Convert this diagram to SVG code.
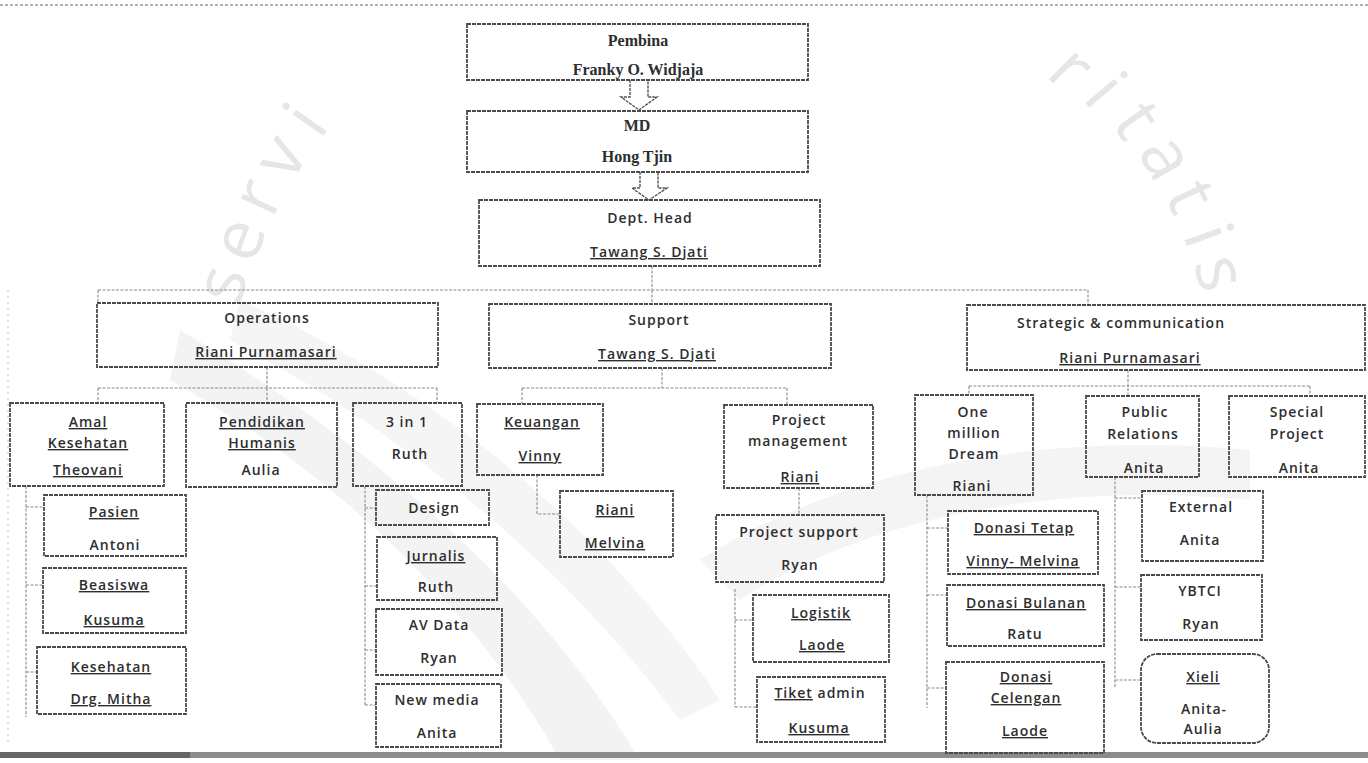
<svg xmlns="http://www.w3.org/2000/svg" width="1368" height="763" viewBox="0 0 1368 763">
<defs>
<style>
.bx{fill:none;stroke:#4a4a4a;stroke-width:1.8;stroke-dasharray:4 1}
.cn{fill:none;stroke:#8a8a8a;stroke-width:1.1;stroke-dasharray:3 1.5}
.s{font-family:"Open Sans","DejaVu Sans",sans-serif;font-size:14px;font-weight:600;fill:#2e2e2e;text-anchor:middle;letter-spacing:1px}
.t{font-family:"Liberation Serif","Times New Roman",serif;font-size:16px;font-weight:bold;fill:#2e2e2e;text-anchor:middle}
.u{text-decoration:underline;text-decoration-style:wavy;text-decoration-color:#8a8a8a}
.wm{font-family:"Open Sans","DejaVu Sans",sans-serif;font-size:70px;fill:#e6e6e6;text-anchor:middle;dominant-baseline:central}
.ar{fill:#fff;stroke:#555;stroke-width:1.4;stroke-dasharray:3 1}
</style>
</defs>
<rect width="1368" height="763" fill="#fff"/>
<g id="watermark">
<path d="M180,330 C330,420 520,560 640,760 L560,760 C470,600 330,470 170,380 Z" fill="#f3f3f3"/>
<path d="M240,300 C420,380 600,520 720,700 L680,720 C560,560 400,430 230,340 Z" fill="#f5f5f5"/>
<path d="M700,560 C840,470 1040,430 1250,450 L1250,500 C1050,480 860,520 740,600 Z" fill="#f4f4f4"/>
<text class="wm" x="218" y="283" transform="rotate(-75 218 283)">s</text>
<text class="wm" x="235" y="238" transform="rotate(-70 235 238)">e</text>
<text class="wm" x="254" y="195" transform="rotate(-65 254 195)">r</text>
<text class="wm" x="277" y="155" transform="rotate(-60 277 155)">v</text>
<text class="wm" x="303" y="118" transform="rotate(-55 303 118)">i</text>
<text class="wm" x="1074" y="66" transform="rotate(45 1074 66)">r</text>
<text class="wm" x="1108" y="88" transform="rotate(50 1108 88)">i</text>
<text class="wm" x="1140" y="118" transform="rotate(55 1140 118)">t</text>
<text class="wm" x="1170" y="155" transform="rotate(60 1170 155)">a</text>
<text class="wm" x="1194" y="195" transform="rotate(65 1194 195)">t</text>
<text class="wm" x="1211" y="234" transform="rotate(70 1211 234)">i</text>
<text class="wm" x="1224" y="272" transform="rotate(75 1224 272)">s</text>
</g>
<g id="scan-edges">
<line x1="0" y1="5" x2="1368" y2="5" stroke="#9a9a9a" stroke-width="1.5" stroke-dasharray="3 2"/>
<line x1="8" y1="290" x2="8" y2="745" stroke="#c4c4c4" stroke-width="1" stroke-dasharray="2 4"/>
<rect x="0" y="752" width="1368" height="6" fill="#8c8c8c"/>
<rect x="0" y="752" width="190" height="6" fill="#666"/>
</g>
<g id="connectors">
<path class="ar" d="M630,80 V97 H621 L639,110 L657,97 H648 V80"/>
<path class="ar" d="M640,172 V188 H632 L649,200 L667,188 H658 V172"/>
<path class="cn" d="M652,266 V290 M98,290 H1088 M98,290 V303 M652,290 V304 M1088,290 V305"/>
<path class="cn" d="M267,367 V388 M98,388 H437 M98,388 V403 M267,388 V403 M437,388 V403"/>
<path class="cn" d="M662,368 V388 M522,388 H787 M522,388 V404 M787,388 V405"/>
<path class="cn" d="M1128,370 V396 M969,386 H1310 M969,386 V395 M1310,386 V396"/>
<path class="cn" d="M26,486 V717 M26,507 H44 M26,585 H43 M26,672 H37"/>
<path class="cn" d="M365,486 V705 M365,508 H376 M365,586 H377 M365,650 H376 M365,705 H376"/>
<path class="cn" d="M537,475 V514 H560"/>
<path class="cn" d="M799,488 V515"/>
<path class="cn" d="M735,589 V707 M735,620 H753 M735,707 H757"/>
<path class="cn" d="M927,495 V708 M927,528 H948 M927,595 H947 M927,688 H946"/>
<path class="cn" d="M1115,477 V688 M1115,498 H1142 M1115,587 H1141 M1115,680 H1141"/>
</g>
<g id="pembina"><rect class="bx" x="467" y="24" width="341" height="56"/><text class="t" x="638" y="46">Pembina</text><text class="t" x="638" y="75">Franky O. Widjaja</text></g>
<g id="md"><rect class="bx" x="467" y="111" width="341" height="61"/><text class="t" x="637" y="131">MD</text><text class="t" x="637" y="162">Hong Tjin</text></g>
<g id="depthead"><rect class="bx" x="479" y="200" width="341" height="66"/><text class="s" x="650" y="223">Dept. Head</text><text class="s u" x="649" y="257">Tawang S. Djati</text></g>
<g id="operations"><rect class="bx" x="97" y="303" width="341" height="64"/><text class="s" x="267" y="323">Operations</text><text class="s u" x="266" y="357">Riani Purnamasari</text></g>
<g id="support"><rect class="bx" x="489" y="304" width="342" height="64"/><text class="s" x="659" y="325">Support</text><text class="s u" x="657" y="359">Tawang S. Djati</text></g>
<g id="strategic"><rect class="bx" x="967" y="305" width="398" height="65"/><text class="s" x="1121" y="328">Strategic &amp; communication</text><text class="s u" x="1130" y="363">Riani Purnamasari</text></g>
<g id="amal"><rect class="bx" x="10" y="403" width="154" height="83"/><text class="s u" x="88" y="427">Amal</text><text class="s u" x="88" y="448">Kesehatan</text><text class="s u" x="88" y="475">Theovani</text></g>
<g id="pendidikan"><rect class="bx" x="186" y="403" width="151" height="84"/><text class="s u" x="262" y="427">Pendidikan</text><text class="s u" x="262" y="448">Humanis</text><text class="s" x="261" y="475">Aulia</text></g>
<g id="threeinone"><rect class="bx" x="353" y="403" width="109" height="83"/><text class="s" x="407" y="427">3 in 1</text><text class="s" x="410" y="459">Ruth</text></g>
<g id="keuangan"><rect class="bx" x="477" y="404" width="126" height="71"/><text class="s u" x="542" y="427">Keuangan</text><text class="s u" x="540" y="461">Vinny</text></g>
<g id="projectmgmt"><rect class="bx" x="724" y="405" width="149" height="83"/><text class="s" x="799" y="425">Project</text><text class="s" x="798" y="446">management</text><text class="s u" x="800" y="482">Riani</text></g>
<g id="rianimelvina"><rect class="bx" x="560" y="491" width="113" height="66"/><text class="s u" x="615" y="515">Riani</text><text class="s u" x="615" y="548">Melvina</text></g>
<g id="projectsupport"><rect class="bx" x="716" y="515" width="168" height="67"/><text class="s" x="799" y="537">Project support</text><text class="s" x="800" y="570">Ryan</text></g>
<g id="logistik"><rect class="bx" x="753" y="595" width="136" height="67"/><text class="s u" x="821" y="618">Logistik</text><text class="s u" x="822" y="650">Laode</text></g>
<g id="tiketadmin"><rect class="bx" x="757" y="677" width="128" height="65"/><text class="s" x="820" y="698"><tspan class="u">Tiket</tspan> admin</text><text class="s u" x="819" y="733">Kusuma</text></g>
<g id="pasien"><rect class="bx" x="44" y="495" width="142" height="61"/><text class="s u" x="114" y="517">Pasien</text><text class="s" x="115" y="550">Antoni</text></g>
<g id="beasiswa"><rect class="bx" x="43" y="568" width="143" height="65"/><text class="s u" x="114" y="590">Beasiswa</text><text class="s u" x="114" y="625">Kusuma</text></g>
<g id="kesehatan"><rect class="bx" x="37" y="647" width="149" height="67"/><text class="s u" x="111" y="672">Kesehatan</text><text class="s u" x="111" y="704">Drg. Mitha</text></g>
<g id="design"><rect class="bx" x="376" y="490" width="113" height="35"/><text class="s" x="434" y="513">Design</text></g>
<g id="jurnalis"><rect class="bx" x="377" y="537" width="120" height="63"/><text class="s u" x="436" y="561">Jurnalis</text><text class="s" x="436" y="592">Ruth</text></g>
<g id="avdata"><rect class="bx" x="376" y="609" width="126" height="66"/><text class="s" x="439" y="630">AV Data</text><text class="s" x="439" y="663">Ryan</text></g>
<g id="newmedia"><rect class="bx" x="376" y="684" width="125" height="63"/><text class="s" x="437" y="705">New media</text><text class="s" x="437" y="738">Anita</text></g>
<g id="onemillion"><rect class="bx" x="915" y="395" width="118" height="100"/><text class="s" x="973" y="417">One</text><text class="s" x="974" y="438">million</text><text class="s" x="974" y="459">Dream</text><text class="s" x="972" y="491">Riani</text></g>
<g id="publicrelations"><rect class="bx" x="1086" y="396" width="113" height="81"/><text class="s" x="1145" y="417">Public</text><text class="s" x="1143" y="439">Relations</text><text class="s" x="1144" y="473">Anita</text></g>
<g id="specialproject"><rect class="bx" x="1229" y="396" width="136" height="81"/><text class="s" x="1297" y="417">Special</text><text class="s" x="1297" y="439">Project</text><text class="s" x="1299" y="473">Anita</text></g>
<g id="donasitetap"><rect class="bx" x="948" y="511" width="150" height="63"/><text class="s u" x="1024" y="533">Donasi Tetap</text><text class="s u" x="1023" y="566">Vinny- Melvina</text></g>
<g id="donasibulanan"><rect class="bx" x="947" y="585" width="157" height="61"/><text class="s u" x="1026" y="608">Donasi Bulanan</text><text class="s" x="1025" y="639">Ratu</text></g>
<g id="donasicelengan"><rect class="bx" x="946" y="662" width="158" height="91"/><text class="s u" x="1026" y="682">Donasi</text><text class="s u" x="1026" y="703">Celengan</text><text class="s u" x="1025" y="736">Laode</text></g>
<g id="external"><rect class="bx" x="1142" y="491" width="121" height="70"/><text class="s" x="1201" y="512">External</text><text class="s" x="1200" y="545">Anita</text></g>
<g id="ybtci"><rect class="bx" x="1141" y="575" width="121" height="65"/><text class="s" x="1200" y="596">YBTCI</text><text class="s" x="1201" y="629">Ryan</text></g>
<g id="xieli"><rect class="bx" x="1141" y="654" width="128" height="89" rx="16"/><text class="s u" x="1203" y="682">Xieli</text><text class="s" x="1204" y="714">Anita-</text><text class="s" x="1203" y="734">Aulia</text></g>
</svg>
